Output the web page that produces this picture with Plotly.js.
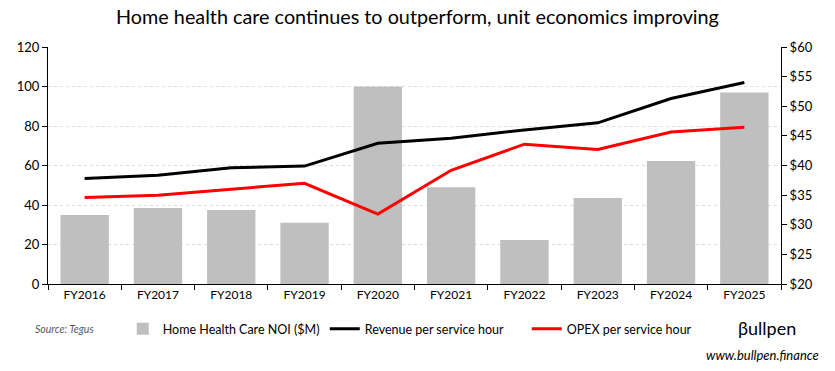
<!DOCTYPE html>
<html><head><meta charset="utf-8">
<script src="https://cdn.plot.ly/plotly-3.0.1.min.js"></script>
<style>body{margin:0;background:#fff}#chart{width:835px;height:371px}</style>
</head><body><div id="chart"></div>
<script>
const categories = ["FY2016","FY2017","FY2018","FY2019","FY2020","FY2021","FY2022","FY2023","FY2024","FY2025"];
const noi = [35, 38.5, 37.5, 31, 100, 49, 22.3, 43.5, 62.3, 97];
const revenuePerHour = [37.8, 38.35, 39.6, 39.9, 43.75, 44.6, 46.0, 47.2, 51.3, 54.0];
const opexPerHour = [34.6, 35.0, 36.0, 37.0, 31.8, 39.2, 43.6, 42.7, 45.65, 46.45];
const leftTicks = [0,20,40,60,80,100,120];
const rightTicks = [20,25,30,35,40,45,50,55,60];

const F = "Lato, 'Open Sans', sans-serif";
const traces = [
  {type:"bar", x:categories, y:noi, name:"Home Health Care NOI ($M)", marker:{color:"#bfbfbf"}, width:0.66, yaxis:"y"},
  {type:"scatter", mode:"lines", x:categories, y:revenuePerHour, name:"Revenue per service hour", line:{color:"#000000", width:3}, yaxis:"y2"},
  {type:"scatter", mode:"lines", x:categories, y:opexPerHour, name:"OPEX per service hour", line:{color:"#ff0000", width:3}, yaxis:"y2"}
];
const layout = {
  width:835, height:371,
  margin:{l:48, r:54, t:47, b:87},
  paper_bgcolor:"#fff", plot_bgcolor:"#fff",
  font:{family:F, size:12, color:"#000"},
  title:{text:"Home health care continues to outperform, unit economics improving", font:{family:F, size:19.8, color:"#000"}, x:0.5, xanchor:"center", y:0.955, yanchor:"middle"},
  bargap:0.34,
  xaxis:{type:"category", showline:true, linecolor:"#000", linewidth:1, ticks:"outside", tickson:"boundaries", ticklen:5, tickcolor:"#000", showgrid:false, tickfont:{family:F, size:12}},
  yaxis:{range:[0,120], tickvals:leftTicks, showline:true, linecolor:"#000", ticks:"outside", ticklen:5, tickcolor:"#000", gridcolor:"#dcdcdc", griddash:"dot", zeroline:false, tickfont:{family:F, size:13}},
  yaxis2:{range:[20,60], tickvals:rightTicks, ticktext:rightTicks.map(v=>"$"+v), overlaying:"y", side:"right", showline:true, linecolor:"#000", ticks:"outside", ticklen:5, tickcolor:"#000", showgrid:false, zeroline:false, tickfont:{family:F, size:13}},
  showlegend:true,
  legend:{orientation:"h", x:0.102, xanchor:"left", y:-0.19, yanchor:"middle", entrywidth:157, font:{family:F, size:12.5}, traceorder:"normal"},
  annotations:[
    {text:"<i>Source: Tegus</i>", xref:"paper", yref:"paper", x:-0.021, y:-0.19, xanchor:"left", yanchor:"middle", showarrow:false, font:{family:F, size:10.5, color:"#595959"}},
    {text:"βullpen", xref:"paper", yref:"paper", x:1.023, y:-0.185, xanchor:"right", yanchor:"middle", showarrow:false, font:{family:F, size:18, color:"#000"}},
    {text:"<i>www.bullpen.finance</i>", xref:"paper", yref:"paper", x:1.054, y:-0.3, xanchor:"right", yanchor:"middle", showarrow:false, font:{family:F, size:13, color:"#000"}}
  ]
};
Plotly.newPlot("chart", traces, layout, {displayModeBar:false, staticPlot:true});
</script></body></html>
